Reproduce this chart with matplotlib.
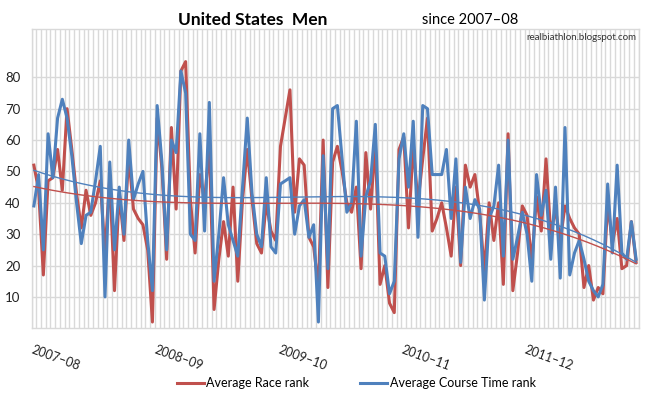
import numpy as np
import matplotlib.pyplot as plt
from matplotlib.lines import Line2D

# average ranks per race weekend
race_rank = [52, 44, 17, 47, 48, 57, 44, 70, 57, 43, 32, 44, 36, 40, 47, 24, 48, 12, 43, 28,
             55, 38, 35, 33, 25, 2, 67, 51, 22, 64, 38, 82, 85, 41, 24, 49, 41, 58, 6, 22,
             34, 23, 45, 15, 41, 57, 41, 27, 24, 40, 31, 28, 58, 67, 76, 37, 54, 52, 29, 26,
             13, 60, 13, 53, 58, 50, 40, 37, 45, 19, 56, 38, 59, 14, 20, 8, 5, 57, 61, 32,
             58, 40, 54, 67, 31, 35, 40, 32, 23, 45, 20, 52, 45, 49, 37, 18, 40, 28, 40, 14,
             62, 12, 24, 39, 36, 21, 42, 31, 54, 30, 38, 28, 39, 35, 32, 30, 13, 20, 9, 13,
             11, 40, 27, 35, 19, 20, 34, 21]
course_rank = [39, 49, 25, 62, 48, 67, 73, 67, 55, 40, 27, 36, 37, 47, 58, 10, 53, 25, 45, 30,
               60, 41, 46, 50, 28, 12, 71, 53, 25, 60, 56, 82, 75, 30, 28, 62, 31, 72, 15, 30,
               48, 33, 28, 23, 45, 67, 43, 30, 26, 48, 26, 24, 46, 47, 48, 30, 39, 41, 29, 33,
               2, 55, 19, 70, 71, 54, 37, 40, 66, 23, 42, 47, 65, 24, 23, 11, 15, 54, 62, 45,
               66, 29, 71, 70, 49, 49, 49, 57, 35, 54, 21, 45, 35, 41, 38, 9, 35, 39, 52, 23,
               60, 22, 29, 37, 30, 15, 49, 36, 44, 22, 45, 16, 64, 17, 24, 28, 22, 15, 12, 10,
               14, 46, 24, 52, 24, 22, 34, 22]
season_labels = ["2007\u201308", "2008\u201309", "2009\u201310", "2010\u201311", "2011\u201312"]
season_start = [0, 26, 52, 78, 104]

RED = "#C0504D"
BLUE = "#4F81BD"
GRID = "#D9D9D9"

plt.rcParams["font.family"] = ["Lato", "DejaVu Sans"]

n = len(race_rank)
x = np.arange(n)

fig = plt.figure(figsize=(6.46, 3.99), dpi=100)
ax = fig.add_axes([31.5 / 646, 1 - 328.3 / 399, 607 / 646, 299 / 399])

# grid: one vertical line per category boundary, horizontal every 10
for k in range(n + 1):
    ax.axvline(k - 0.5, color=GRID, lw=1, zorder=0)
for v in range(10, 90, 10):
    ax.axhline(v, color=GRID, lw=1, zorder=0)

ax.plot(x, race_rank, color=RED, lw=2.2, zorder=3, solid_joinstyle="round")
ax.plot(x, course_rank, color=BLUE, lw=2.2, zorder=4, solid_joinstyle="round")

# polynomial trendlines like excel
for vals, col in [(race_rank, RED), (course_rank, BLUE)]:
    p = np.polyfit(x, vals, 3)
    ax.plot(x, np.polyval(p, x), color=col, lw=1, zorder=5)

ax.set_xlim(-0.5, n - 0.5)
ax.set_ylim(0, 95.3)
ax.set_yticks(range(10, 90, 10))
ax.set_xticks(season_start)
ax.set_xticklabels(season_labels, rotation=-20, ha="left", rotation_mode="anchor")
ax.tick_params(axis="both", length=0, labelsize=9.5, colors="#222222")
ax.tick_params(axis="x", pad=11, labelsize=9)
ax.tick_params(axis="y", pad=8)
for s in ax.spines.values():
    s.set_color(GRID)
    s.set_linewidth(1)

fig.text(178 / 646, 1 - 20 / 399, "United States  Men", fontsize=12.5, fontweight="bold",
         va="center", ha="left")
fig.text(422 / 646, 1 - 20 / 399, "since 2007\u201308", fontsize=10.5, va="center", ha="left")
fig.text(636 / 646, 1 - 38 / 399, "realbiathlon.blogspot.com", fontsize=7, va="center",
         ha="right", color="#333333")

handles = [Line2D([], [], color=RED, lw=2.2), Line2D([], [], color=BLUE, lw=2.2)]
fig.legend(handles, ["Average Race rank", "Average Course Time rank"], ncol=2,
           loc="center", bbox_to_anchor=(356 / 646, 1 - 383 / 399), frameon=False,
           fontsize=9, handlelength=2.2, handletextpad=0.2, columnspacing=4)

fig.savefig("out.png", dpi=100)
